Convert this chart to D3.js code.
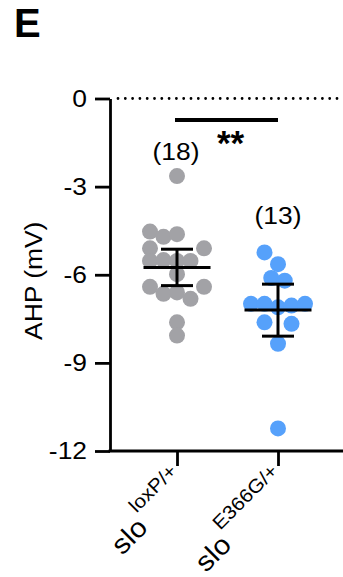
<!DOCTYPE html>
<html>
<head>
<meta charset="utf-8">
<script src="https://cdn.jsdelivr.net/npm/d3@7"></script>
<style>
  html, body { margin: 0; padding: 0; background: #fff; }
  svg { display: block; font-family: "Liberation Sans", Arial, Helvetica, sans-serif; }
</style>
</head>
<body>
<svg id="chart" width="343" height="577"></svg>
<script>
// ---- data ----
const categories = ["loxP/+", "E366G/+"];
const groupN = [18, 13];
const loxpValues = [-2.64, -4.53, -4.71, -4.62, -5.10, -5.10, -5.53, -5.50, -5.53, -5.53, -5.98, -6.41, -6.65, -6.60, -6.82, -6.41, -7.62, -8.07];
const loxpSlots  = [0, -2, -1, 0, -2, 2, -2, -1, 0, 1, 0, -2, -1, 0, 1, 2, 0, 0];
const e366gValues = [-5.24, -5.64, -6.11, -6.20, -6.99, -6.99, -7.11, -7.05, -6.99, -7.62, -7.67, -8.35, -11.23];
const e366gSlots  = [-1, 0, -0.5, 0.5, -2, -1, 0, 1, 2, -1, 1, 0, 0];
const groupMean = [-5.75, -7.20];
const groupErrHigh = [-5.13, -6.32];
const groupErrLow = [-6.37, -8.09];
const yTicks = [0, -3, -6, -9, -12];
const yDomain = [-12, 0];
const significance = "**";
const panelLabel = "E";
const yTitle = "AHP (mV)";

// ---- layout ----
const svg = d3.select("#chart");
const W = 343;
const axisX = 110;
const colors = ["#a2a2a6", "#56a1fb"];
const slotStep = 13.5;
const dotR = 8;
const stretch = 1.1;

const y = d3.scaleLinear().domain(yDomain).range([451, 98.5]);
const x = d3.scalePoint().domain(categories).range([177, 278]);

// panel label
svg.append("text").attr("x", 14).attr("y", 37)
  .attr("font-size", 40).attr("font-weight", "bold").text(panelLabel);

// dotted zero line
svg.append("line")
  .attr("x1", axisX + 8).attr("x2", W).attr("y1", y(0)).attr("y2", y(0))
  .attr("stroke", "#000").attr("stroke-width", 2.8)
  .attr("stroke-linecap", "round").attr("stroke-dasharray", "0,7.3");

// y axis
const yAxis = svg.append("g").attr("transform", `translate(${axisX},0)`)
  .call(d3.axisLeft(y).tickValues(yTicks).tickSize(15).tickSizeOuter(0).tickPadding(8).tickFormat(d => String(d)));
yAxis.select(".domain").attr("stroke-width", 2.8);
yAxis.selectAll(".tick line").attr("stroke-width", 2.8);
yAxis.selectAll(".tick text").attr("font-size", 24).attr("fill", "#000")
  .attr("font-family", "'Liberation Sans', Arial, sans-serif")
  .attr("x", -23 / stretch)
  .attr("transform", `scale(${stretch},1)`);

// x axis
svg.append("line").attr("x1", axisX - 1.4).attr("x2", W).attr("y1", y(-12)).attr("y2", y(-12))
  .attr("stroke", "#000").attr("stroke-width", 2.8);
const xAxis = svg.append("g").attr("transform", `translate(0,${y(-12)})`)
  .call(d3.axisBottom(x).tickSize(15).tickSizeOuter(0).tickFormat(""));
xAxis.select(".domain").remove();
xAxis.selectAll(".tick line").attr("stroke-width", 2.8);

// y title
svg.append("text")
  .attr("transform", `translate(42,${(y(0) + y(-12)) / 2 + 6}) rotate(-90) scale(${stretch},1)`)
  .attr("text-anchor", "middle").attr("font-size", 24).text(yTitle);

// category labels
categories.forEach((c, i) => {
  const t = svg.append("text")
    .attr("transform", `translate(${x(c) + 1},${472}) rotate(-45) scale(${stretch},1)`)
    .attr("text-anchor", "end");
  t.append("tspan").attr("font-size", 27).attr("dy", 20).text("slo");
  t.append("tspan").attr("font-size", 19).attr("dx", 2).attr("dy", -20).text(c);
});

// dots
const groups = [
  { cat: categories[0], values: loxpValues, slots: loxpSlots },
  { cat: categories[1], values: e366gValues, slots: e366gSlots }
];
groups.forEach((g, gi) => {
  svg.append("g").selectAll("circle")
    .data(g.values.map((v, k) => ({ v, s: g.slots[k] })))
    .join("circle")
    .attr("cx", d => x(g.cat) + d.s * slotStep)
    .attr("cy", d => y(d.v))
    .attr("r", dotR)
    .attr("fill", colors[gi]);
});

// mean & error bars
groups.forEach((g, gi) => {
  const cx = x(g.cat);
  const eb = svg.append("g").attr("stroke", "#000").attr("stroke-width", 3);
  eb.append("line").attr("x1", cx).attr("x2", cx).attr("y1", y(groupErrHigh[gi])).attr("y2", y(groupErrLow[gi]));
  eb.append("line").attr("x1", cx - 33.5).attr("x2", cx + 33.5).attr("y1", y(groupMean[gi])).attr("y2", y(groupMean[gi]));
  [groupErrHigh[gi], groupErrLow[gi]].forEach(v => {
    eb.append("line").attr("x1", cx - 16).attr("x2", cx + 16).attr("y1", y(v)).attr("y2", y(v));
  });
});

// n labels
[[0, 160], [1, 224]].forEach(([i, ty]) => {
  svg.append("text")
    .attr("transform", `translate(${x(categories[i]) - (i === 0 ? 1 : 0)},${ty}) scale(${stretch},1)`)
    .attr("text-anchor", "middle").attr("font-size", 24).text(`(${groupN[i]})`);
});

// significance
svg.append("line").attr("x1", x(categories[0]) - 2).attr("x2", x(categories[1]))
  .attr("y1", 120).attr("y2", 120).attr("stroke", "#000").attr("stroke-width", 4);
svg.append("text").attr("x", (x(categories[0]) + x(categories[1])) / 2 + 3).attr("y", 155)
  .attr("text-anchor", "middle").attr("font-size", 35).attr("font-weight", "bold").text(significance);
</script>
</body>
</html>
